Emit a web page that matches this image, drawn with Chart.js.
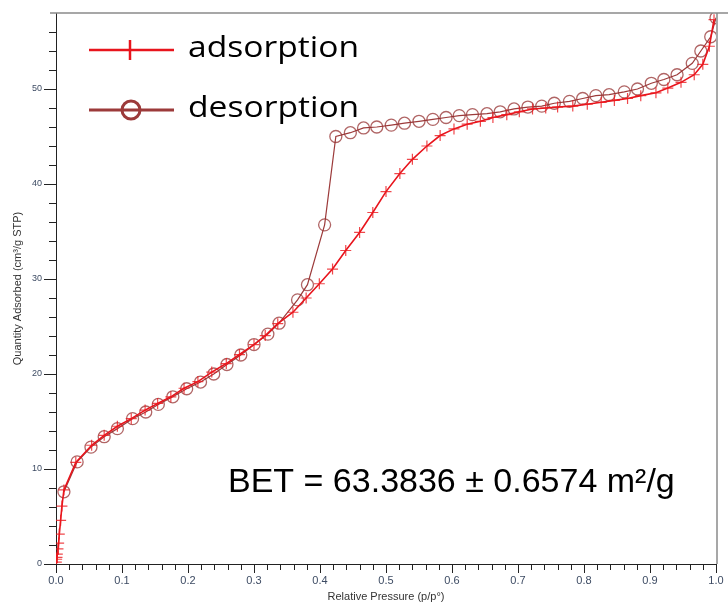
<!DOCTYPE html>
<html>
<head>
<meta charset="utf-8">
<script src="https://cdn.jsdelivr.net/npm/chart.js@4.4.1/dist/chart.umd.min.js"></script>
<style>
    body { margin: 0; background: #fff; }
    #wrap { width: 728px; height: 606px; }
</style>
</head>
<body>
<div id="wrap"><canvas id="bet" width="728" height="606"></canvas></div>
<script>
// relative pressure / quantity adsorbed
const adsP = [0.0005, 0.001, 0.0015, 0.002, 0.003, 0.004, 0.005, 0.007, 0.009, 0.012,
    0.030, 0.054, 0.073, 0.093, 0.114, 0.135, 0.154, 0.174, 0.194, 0.215,
    0.236, 0.258, 0.278, 0.300, 0.317, 0.336, 0.359, 0.379, 0.399, 0.419,
    0.439, 0.460, 0.480, 0.500, 0.521, 0.540, 0.562, 0.582, 0.603, 0.623,
    0.643, 0.662, 0.683, 0.702, 0.722, 0.742, 0.760, 0.783, 0.805, 0.826,
    0.846, 0.866, 0.886, 0.909, 0.927, 0.947, 0.967, 0.980, 0.990, 0.997]
const adsQ = [0.2, 0.5, 0.7, 1.05, 1.6, 2.2, 3.15, 4.6, 6.1, 7.8,
    10.7, 12.5, 13.55, 14.5, 15.3, 16.2, 16.9, 17.6, 18.5, 19.2,
    20.2, 21.1, 22.05, 23.1, 24.05, 25.3, 26.5, 28.0, 29.5, 31.05,
    33.0, 34.9, 37.0, 39.2, 41.1, 42.6, 44.0, 45.1, 45.8, 46.3,
    46.6, 47.0, 47.3, 47.6, 47.9, 48.0, 48.1, 48.2, 48.4, 48.6,
    48.8, 49.0, 49.3, 49.6, 50.1, 50.7, 51.5, 52.6, 54.5, 57.3]

const desP = [1.0, 0.992, 0.977, 0.964, 0.941, 0.921, 0.902, 0.881, 0.861, 0.838,
    0.818, 0.798, 0.778, 0.755, 0.736, 0.715, 0.694, 0.673, 0.653, 0.631,
    0.611, 0.591, 0.571, 0.550, 0.528, 0.508, 0.486, 0.466, 0.446, 0.424,
    0.407, 0.381, 0.366, 0.338, 0.321, 0.300, 0.280, 0.259, 0.239, 0.219,
    0.198, 0.177, 0.155, 0.136, 0.116, 0.093, 0.073, 0.053, 0.032, 0.012]
const desQ = [57.5, 55.5, 54.0, 52.7, 51.5, 51.0, 50.6, 50.0, 49.7, 49.4,
    49.3, 49.0, 48.7, 48.5, 48.2, 48.1, 47.9, 47.6, 47.4, 47.3,
    47.2, 47.0, 46.8, 46.6, 46.4, 46.2, 46.0, 45.9, 45.4, 45.0,
    35.7, 29.4, 27.8, 25.35, 24.2, 23.1, 22.0, 21.0, 20.0, 19.15,
    18.45, 17.6, 16.8, 16.0, 15.3, 14.25, 13.4, 12.3, 10.75, 7.6]

const seriesNames = ['adsorption', 'desorption']
const betText = 'BET = 63.3836 ± 0.6574 m²/g'

const adsColor = '#e8141c'
const desColor = '#9c3a3a'

function toPoints(xs, ys) {
    return xs.map((x, i) => ({ x: x, y: ys[i] }))
}

// frame, minor ticks, legend and BET note
const decor = {
    id: 'decor',
    afterDraw(chart) {
        const ctx = chart.ctx
        const a = chart.chartArea
        const x = chart.scales.x
        const y = chart.scales.y
        ctx.save()

        // grey frame top + right
        ctx.strokeStyle = '#8a8a8a'
        ctx.lineWidth = 1.5
        ctx.beginPath()
        ctx.moveTo(50, a.top)
        ctx.lineTo(728, a.top)
        ctx.moveTo(a.right + 1, a.top)
        ctx.lineTo(a.right + 1, a.bottom)
        ctx.stroke()

        // tick marks
        ctx.strokeStyle = '#222'
        ctx.lineWidth = 1
        ctx.beginPath()
        for (let i = 0; i <= 50; i++) {
            const px = Math.round(x.getPixelForValue(i * 0.02)) + 0.5
            const len = i % 5 === 0 ? 9 : 6
            ctx.moveTo(px, a.bottom)
            ctx.lineTo(px, a.bottom + len)
        }
        for (let i = 0; i <= 28; i++) {
            const py = Math.round(y.getPixelForValue(i * 2)) + 0.5
            const len = i % 5 === 0 ? 12 : 7
            ctx.moveTo(a.left, py)
            ctx.lineTo(a.left - len, py)
        }
        ctx.stroke()

        // legend
        const rows = [
            { y: 50, color: adsColor, width: 2.5, name: seriesNames[0], base: 57 },
            { y: 110, color: desColor, width: 3, name: seriesNames[1], base: 117 }
        ]
        rows.forEach((r, i) => {
            ctx.strokeStyle = r.color
            ctx.lineWidth = r.width
            ctx.beginPath()
            ctx.moveTo(89, r.y)
            ctx.lineTo(174, r.y)
            ctx.stroke()
            ctx.beginPath()
            if (i === 0) {
                ctx.moveTo(130, r.y - 10)
                ctx.lineTo(130, r.y + 10)
            } else {
                ctx.arc(131, r.y, 9, 0, Math.PI * 2)
            }
            ctx.stroke()

            ctx.save()
            ctx.translate(188, r.base)
            ctx.scale(1.12, 1)
            ctx.fillStyle = '#000'
            ctx.font = '30px "Open Sans"'
            ctx.textBaseline = 'alphabetic'
            ctx.fillText(r.name, 0, 0)
            ctx.restore()
        })

        ctx.fillStyle = '#000'
        ctx.font = '34px "Liberation Sans"'
        ctx.textBaseline = 'alphabetic'
        ctx.fillText(betText, 228, 492)

        ctx.restore()
    }
}

const tickColor = '#3d4b63'

new Chart(document.getElementById('bet'), {
    type: 'scatter',
    data: {
        datasets: [{
            label: seriesNames[0],
            data: toPoints(adsP, adsQ),
            showLine: true,
            borderColor: adsColor,
            borderWidth: 1.6,
            pointStyle: 'cross',
            pointRadius: 5.5,
            pointBorderWidth: 1.2,
            pointBorderColor: 'rgba(235, 25, 30, 0.8)',
            pointBackgroundColor: 'rgba(0,0,0,0)',
            tension: 0
        }, {
            label: seriesNames[1],
            data: toPoints(desP, desQ),
            showLine: true,
            borderColor: desColor,
            borderWidth: 1.2,
            pointStyle: 'circle',
            pointRadius: 6,
            pointBorderWidth: 1.3,
            pointBorderColor: 'rgba(150, 50, 50, 0.75)',
            pointBackgroundColor: 'rgba(0,0,0,0)',
            tension: 0
        }]
    },
    options: {
        responsive: false,
        animation: false,
        layout: { padding: { top: 13, right: 12, left: 0, bottom: 0 } },
        plugins: {
            legend: { display: false },
            tooltip: { enabled: false }
        },
        scales: {
            x: {
                type: 'linear',
                min: 0,
                max: 1,
                afterFit: scale => { scale.height = 42 },
                grid: { display: false, drawTicks: true, tickLength: 8 },
                border: { display: true, color: '#222', width: 1 },
                ticks: {
                    stepSize: 0.1,
                    padding: 2,
                    color: tickColor,
                    font: { family: '"Liberation Sans"', size: 11 },
                    callback: v => v.toFixed(1)
                },
                title: {
                    display: true,
                    text: 'Relative Pressure (p/p°)',
                    color: '#333',
                    font: { family: '"Liberation Sans"', size: 11 },
                    padding: { top: 0, bottom: 2 }
                }
            },
            y: {
                type: 'linear',
                min: 0,
                max: 58,
                afterFit: scale => { scale.width = 56 },
                grid: { display: false, drawTicks: true, tickLength: 11 },
                border: { display: true, color: '#222', width: 1 },
                ticks: {
                    stepSize: 10,
                    padding: 3,
                    color: tickColor,
                    font: { family: '"Liberation Sans"', size: 9 },
                    callback: v => (v % 10 === 0 ? v : '')
                },
                title: {
                    display: true,
                    text: 'Quantity Adsorbed (cm³/g STP)',
                    color: '#333',
                    font: { family: '"Liberation Sans"', size: 11 },
                    padding: { top: 11, bottom: 0 }
                }
            }
        }
    },
    plugins: [decor]
})
</script>
</body>
</html>
